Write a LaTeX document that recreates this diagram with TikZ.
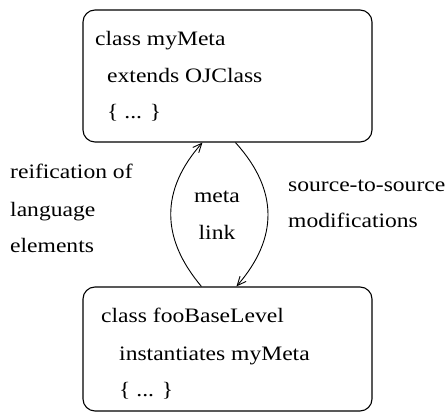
\documentclass[tikz,border=0pt]{standalone}
\usepackage{fontspec}
\setmainfont{Liberation Serif}[FakeStretch=1.15]
\usetikzlibrary{arrows.meta,calc}
\begin{document}
\begin{tikzpicture}[x=1pt,y=1pt,
  box/.style={draw, line width=1.1pt, rounded corners=12pt, minimum width=289pt, inner sep=0pt},
  txt/.style={anchor=base west, inner sep=0pt, font=\fontsize{20.5}{37}\selectfont},
  ctxt/.style={anchor=base, inner sep=0pt, font=\fontsize{20.5}{37}\selectfont},
  linkarrow/.style={line width=0.9pt, -{Straight Barb[length=9pt,width=8pt]}}]
\useasboundingbox (0,0) rectangle (448,412);
\node[box, minimum height=132pt] (meta) at (227.5,336) {};
\node[box, minimum height=124pt] (base) at (227.5,63) {};
% top box text
\node[txt] (m1) at (95,366) {class myMeta};
\node[txt] (m2) at (107,329) {extends OJClass};
\node[txt] (m3) at (107,293) {\{ ... \}};
% bottom box text
\node[txt] (b1) at (101,89) {class fooBaseLevel};
\node[txt] (b2) at (119,51) {instantiates myMeta};
\node[txt] (b3) at (119,15) {\{ ... \}};
% side labels
\node[txt] (l1) at (10,233) {reification of};
\node[txt] (l2) at (10,195) {language};
\node[txt] (l3) at (10,159) {elements};
\node[txt] (r1) at (288,220) {source-to-source};
\node[txt] (r2) at (288,184) {modifications};
\node[ctxt] (c1) at (217,209) {meta};
\node[ctxt] (c2) at (217,172) {link};
% connectors
\coordinate (ls) at ($(base.north west)+(119,0)$);
\coordinate (le) at ($(meta.south west)+(120,0)$);
\coordinate (rs) at ($(meta.south west)+(153,0)$);
\coordinate (re) at ($(base.north west)+(154,0)$);
\draw[linkarrow] (ls) .. controls (160.5,174) and (160.5,222) .. (le);
\draw[linkarrow] (rs) .. controls (278.5,222) and (278.5,174) .. (re);
\end{tikzpicture}
\end{document}
